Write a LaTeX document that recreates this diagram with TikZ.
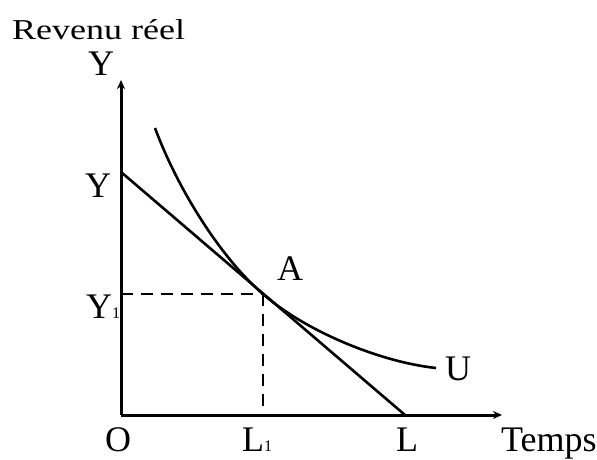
\documentclass[tikz,border=0pt]{standalone}
\usepackage{fontspec}
\setmainfont{Liberation Serif}
\usetikzlibrary{arrows.meta}
\begin{document}
\begin{tikzpicture}[x=1pt,y=-1pt,
  lbl/.style={inner sep=0pt,font=\fontsize{36}{40}\selectfont},
  axis/.style={line width=3pt,-{Stealth[length=9pt,width=8pt]}},
  curve/.style={line width=2.6pt},
  guide/.style={line width=2.6pt,dash pattern=on 12pt off 8pt}]
\useasboundingbox (0,0) rectangle (597,460);
\coordinate (O) at (121,415);
\coordinate (ytop) at (121,80);
\coordinate (xend) at (502,415);
\coordinate (Ymax) at (121,172);
\coordinate (Lmax) at (405,415);
\coordinate (A) at (263,294);
\coordinate (Ay) at (121,294);
\coordinate (Ax) at (263,415);
\coordinate (Us) at (155,128);
\coordinate (Ue) at (436,368);
% axes
\draw[axis] (O) -- (ytop);
\draw[axis] (O) -- (xend);
% budget line
\draw[curve] (Ymax) -- (Lmax);
% indifference curve
\draw[curve] (Us) .. controls (180,195) and (225,262) .. (A)
  .. controls (305,331) and (380,362) .. (Ue);
% dashed guides
\draw[guide] (Ay) -- (A);
\draw[guide] (A) -- (Ax);
% labels
\node[lbl,anchor=base west] (rev) at (12,40) {\scalebox{1}[0.8]{Revenu réel}};
\node[lbl,anchor=base] (ytopl) at (101,75) {Y};
\node[lbl,anchor=base] (ymaxl) at (98,197) {Y};
\node[lbl,anchor=base west] (y1l) at (86,318) {Y\fontsize{16}{16}\selectfont 1};
\node[lbl,anchor=base] (al) at (290,280) {A};
\node[lbl,anchor=base] (ol) at (118,451) {O};
\node[lbl,anchor=base west] (l1l) at (242,451) {L\fontsize{16}{16}\selectfont 1};
\node[lbl,anchor=base] (ll) at (407,451) {L};
\node[lbl,anchor=base] (ul) at (458,380) {U};
\node[lbl,anchor=base west] (tl) at (501,451) {Temps};
\end{tikzpicture}
\end{document}
